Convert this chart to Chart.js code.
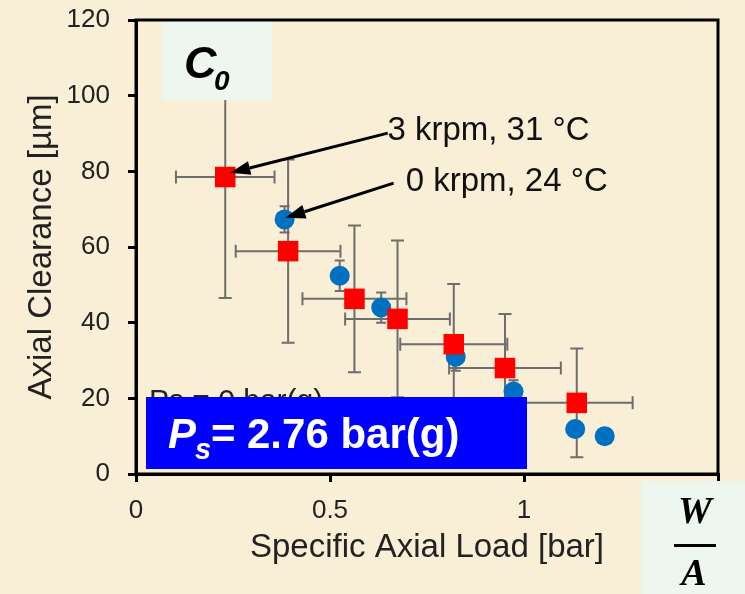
<!DOCTYPE html>
<html lang="en">
<head>
  <meta charset="UTF-8">
  <title>Axial Clearance vs Specific Axial Load</title>
  <script src="https://cdn.jsdelivr.net/npm/chart.js"></script>
  <style>
    * {
      margin: 0;
      padding: 0;
      box-sizing: border-box;
    }

    body {
      background-color: #f9eed6;
      width: 745px;
      height: 594px;
      overflow: hidden;
    }

    .wrap {
      position: relative;
      width: 745px;
      height: 594px;
    }
  </style>
</head>
<body>
  <div class="wrap">
    <canvas id="clearanceChart" width="745" height="594"></canvas>
  </div>

  <script>
    // 3 krpm, 31 °C (red squares)
    const hotLoad = [0.230, 0.392, 0.563, 0.674, 0.819, 0.951, 1.136];
    const hotClearance = [78.5, 58.9, 46.3, 41.0, 34.3, 28.0, 18.8];
    const hotLoadErr = [0.127, 0.135, 0.134, 0.135, 0.138, 0.144, 0.144];
    const hotClearanceErr = [32.0, 24.2, 19.4, 20.7, 15.9, 14.3, 14.4];

    // 0 krpm, 24 °C (blue circles)
    const coldLoad = [0.383, 0.525, 0.632, 0.824, 0.973, 1.132, 1.208];
    const coldClearance = [67.3, 52.4, 44.0, 31.0, 21.8, 11.9, 10.0];
    const coldClearanceErr = [3.5, 4.0, 4.0, 3.7, 3.0, 0, 0];

    // axis ticks
    const xTickValues = [0, 0.5, 1, 1.5];
    const xTickLabels = ['0', '0.5', '1', '1.5'];
    const yTickValues = [0, 20, 40, 60, 80, 100, 120];
    const yTickLabels = ['0', '20', '40', '60', '80', '100', '120'];

    // callouts: [text, textX, textY, arrow tail x, tail y, tip x, tip y] in data units
    const callouts = [
      ['3 krpm, 31 °C', 0.648, 88.3, 0.649, 90.1, 0.243, 79.6],
      ['0 krpm, 24 °C', 0.695, 74.8, 0.664, 76.9, 0.385, 67.7]
    ];

    const sans = "'Liberation Sans', Arial, sans-serif";

    const toPoints = (xs, ys) => xs.map((v, i) => ({ x: v, y: ys[i] }));

    // error bars drawn under the markers
    const errorBars = {
      id: 'errorBars',
      beforeDatasetsDraw(chart) {
        const { ctx, scales: { x, y } } = chart;
        ctx.save();
        ctx.strokeStyle = '#6e6e6e';
        ctx.lineWidth = 2;
        chart.data.datasets.forEach(ds => {
          const cap = ds.capSize || 6;
          ds.data.forEach((p, i) => {
            const px = x.getPixelForValue(p.x);
            const py = y.getPixelForValue(p.y);
            const ex = ds.xErr ? ds.xErr[i] : 0;
            const ey = ds.yErr ? ds.yErr[i] : 0;
            ctx.beginPath();
            if (ey) {
              const t = y.getPixelForValue(p.y + ey);
              const b = y.getPixelForValue(p.y - ey);
              ctx.moveTo(px, t); ctx.lineTo(px, b);
              ctx.moveTo(px - cap, t); ctx.lineTo(px + cap, t);
              ctx.moveTo(px - cap, b); ctx.lineTo(px + cap, b);
            }
            if (ex) {
              const l = x.getPixelForValue(p.x - ex);
              const r = x.getPixelForValue(p.x + ex);
              ctx.moveTo(l, py); ctx.lineTo(r, py);
              ctx.moveTo(l, py - cap); ctx.lineTo(l, py + cap);
              ctx.moveTo(r, py - cap); ctx.lineTo(r, py + cap);
            }
            ctx.stroke();
          });
        });
        ctx.restore();
      }
    };

    // frame, callouts and the slide boxes on top
    const overlays = {
      id: 'overlays',
      afterDraw(chart) {
        const { ctx, chartArea: area, scales: { x, y } } = chart;
        ctx.save();

        // plot frame
        ctx.strokeStyle = '#000';
        ctx.lineWidth = 3;
        ctx.strokeRect(area.left, area.top, area.right - area.left, area.bottom - area.top);

        // arrows + labels
        callouts.forEach(c => {
          const tx = x.getPixelForValue(c[3]), ty = y.getPixelForValue(c[4]);
          const hx = x.getPixelForValue(c[5]), hy = y.getPixelForValue(c[6]);
          const ang = Math.atan2(hy - ty, hx - tx);
          const len = 20, half = 7;
          const bx = hx - len * Math.cos(ang), by = hy - len * Math.sin(ang);
          ctx.strokeStyle = '#000';
          ctx.fillStyle = '#000';
          ctx.lineWidth = 3;
          ctx.beginPath();
          ctx.moveTo(tx, ty);
          ctx.lineTo(bx, by);
          ctx.stroke();
          ctx.beginPath();
          ctx.moveTo(hx, hy);
          ctx.lineTo(bx + half * Math.sin(ang), by - half * Math.cos(ang));
          ctx.lineTo(bx - half * Math.sin(ang), by + half * Math.cos(ang));
          ctx.closePath();
          ctx.fill();

          ctx.fillStyle = '#111';
          ctx.font = '33px ' + sans;
          ctx.textBaseline = 'alphabetic';
          ctx.textAlign = 'left';
          ctx.fillText(c[0], x.getPixelForValue(c[1]), y.getPixelForValue(c[2]));
        });

        // partly hidden original label
        ctx.fillStyle = '#222';
        ctx.font = '30px ' + sans;
        ctx.fillText('Ps = 0 bar(g)', 149, 410);

        // blue supply pressure box
        ctx.fillStyle = '#0000ff';
        ctx.fillRect(146, 397, 381, 72);
        ctx.fillStyle = '#fff';
        ctx.font = 'italic bold 42px ' + sans;
        ctx.fillText('P', 168, 448);
        ctx.font = 'italic bold 29px ' + sans;
        ctx.fillText('s', 195, 459);
        ctx.font = 'bold 42px ' + sans;
        ctx.fillText('=', 211, 448);
        ctx.fillText('2.76 bar(g)', 247, 448);

        // C0 box
        ctx.fillStyle = '#edf7f0';
        ctx.fillRect(162, 22, 110, 78);
        ctx.fillStyle = '#000';
        ctx.font = 'italic bold 45px ' + sans;
        ctx.fillText('C', 184, 78);
        ctx.font = 'italic bold 28px ' + sans;
        ctx.fillText('0', 214, 90);

        // W/A box
        ctx.fillStyle = '#edf7f0';
        ctx.fillRect(641, 481, 104, 113);
        ctx.fillStyle = '#000';
        ctx.textAlign = 'center';
        ctx.font = "italic bold 38px 'Liberation Serif', 'DejaVu Serif', serif";
        ctx.fillText('W', 695, 523);
        ctx.fillText('A', 694, 585);
        ctx.fillRect(674, 544, 42, 3);

        ctx.restore();
      }
    };

    const ctx = document.getElementById('clearanceChart').getContext('2d');
    new Chart(ctx, {
      type: 'scatter',
      data: {
        datasets: [
          {
            label: '3 krpm, 31 °C',
            data: toPoints(hotLoad, hotClearance),
            xErr: hotLoadErr,
            yErr: hotClearanceErr,
            capSize: 6.5,
            pointStyle: 'rect',
            pointRadius: 14.5,
            backgroundColor: '#ff0000',
            borderWidth: 0,
            order: 0
          },
          {
            label: '0 krpm, 24 °C',
            data: toPoints(coldLoad, coldClearance),
            yErr: coldClearanceErr,
            capSize: 5,
            pointStyle: 'circle',
            pointRadius: 10,
            backgroundColor: '#0070c0',
            borderWidth: 0,
            order: 1
          }
        ]
      },
      options: {
        responsive: false,
        animation: false,
        events: [],
        layout: { padding: { top: 20, right: 27, left: 0, bottom: 0 } },
        scales: {
          x: {
            type: 'linear',
            min: 0,
            max: 1.5,
            afterBuildTicks: s => { s.ticks = xTickValues.map(v => ({ value: v })); },
            afterFit: s => {
              s.height = 120;
              s.paddingLeft = 0;
              s.paddingRight = 0;
            },
            ticks: {
              padding: 13,
              color: '#222',
              font: { family: sans, size: 26 },
              callback: v => xTickLabels[xTickValues.indexOf(v)]
            },
            grid: { drawOnChartArea: false, color: '#000', lineWidth: 3, tickLength: 8 },
            border: { color: '#000', width: 3 },
            title: {
              display: true,
              text: 'Specific Axial Load [bar]',
              color: '#222',
              font: { family: sans, size: 33 },
              padding: { top: 0, bottom: 26 }
            }
          },
          y: {
            type: 'linear',
            min: 0,
            max: 120,
            afterBuildTicks: s => { s.ticks = yTickValues.map(v => ({ value: v })); },
            afterFit: s => {
              s.width = 136;
              s.paddingTop = 0;
              s.paddingBottom = 0;
            },
            ticks: {
              padding: 18,
              color: '#222',
              font: { family: sans, size: 26 },
              callback: v => yTickLabels[yTickValues.indexOf(v)]
            },
            grid: { drawOnChartArea: false, color: '#000', lineWidth: 3, tickLength: 8 },
            border: { color: '#000', width: 3 },
            title: {
              display: true,
              text: 'Axial Clearance [µm]',
              color: '#222',
              font: { family: sans, size: 33 },
              padding: { top: 22, bottom: 0 }
            }
          }
        },
        plugins: {
          legend: { display: false },
          tooltip: { enabled: false }
        }
      },
      plugins: [errorBars, overlays]
    });
  </script>
</body>
</html>
